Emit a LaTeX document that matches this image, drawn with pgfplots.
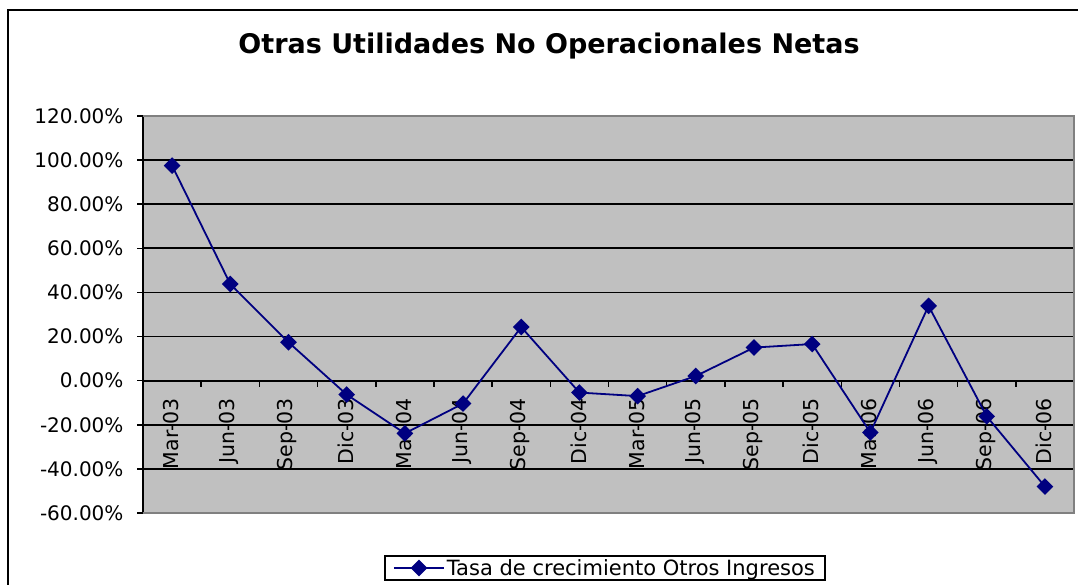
\documentclass[border=0pt]{standalone}
\usepackage{pgfplots}
\pgfplotsset{compat=1.18}
\usepackage{fontspec}
\setmainfont{DejaVu Sans}
\definecolor{navy}{RGB}{0,0,128}
\definecolor{plotgray}{RGB}{192,192,192}
\definecolor{bordergray}{RGB}{128,128,128}
\pgfplotstableread{
x y
0 97.5
1 43.8
2 17.4
3 -6.3
4 -23.9
5 -10.4
6 24.3
7 -5.4
8 -7.0
9 2.1
10 15.0
11 16.6
12 -23.5
13 33.9
14 -16.2
15 -48.0
}\datatable
\begin{document}
\begin{tikzpicture}[x=1bp,y=1bp]
\useasboundingbox (0,0) rectangle (1078,585);
\clip (0,0) rectangle (1078,585);
\fill[white] (0,0) rectangle (1078,585);
\draw[line width=1.5bp] (8,-20) rectangle (1100,575);
\node[font=\fontsize{27bp}{32bp}\selectfont\bfseries] at (549,539) {Otras Utilidades No Operacionales Netas};
\begin{axis}[
  at={(143bp,72bp)}, anchor=south west,
  scale only axis, width=931bp, height=397bp,
  xmin=-0.5, xmax=15.5, ymin=-60, ymax=120,
  axis background/.style={fill=plotgray},
  axis y line*=left, axis x line*=middle,
  axis line style={black, line width=1.8bp},
  ytick={-60,-40,...,120},
  yticklabels={-60.00\%,-40.00\%,-20.00\%,0.00\%,20.00\%,40.00\%,60.00\%,80.00\%,100.00\%,120.00\%},
  ytick style={black, line width=1.5bp},
  ytick align=outside, major tick length=6bp,
  yticklabel style={xshift=-10bp},
  ymajorgrids, major y grid style={black, line width=1.8bp},
  xtick={0,...,15},
  xticklabels={Mar-03,Jun-03,Sep-03,Dic-03,Mar-04,Jun-04,Sep-04,Dic-04,Mar-05,Jun-05,Sep-05,Dic-05,Mar-06,Jun-06,Sep-06,Dic-06},
  major x tick style={draw=none},
  minor xtick={-0.5,0.5,...,15.5},
  minor x tick style={black, line width=1.5bp},
  minor tick length=6bp,
  xtick align=outside,
  xticklabel style={rotate=90, anchor=east, xshift=-8bp, yshift=1bp, font=\fontsize{20.5bp}{24bp}\selectfont},
  yticklabel style={font=\fontsize{20bp}{24bp}\selectfont},
  legend style={at={(0.4962,-0.1385)}, anchor=center, draw=black, line width=1.5bp, fill=white,
    font=\fontsize{21bp}{25bp}\selectfont, inner xsep=8bp, inner ysep=1.5bp},
  legend image code/.code={\draw[mark repeat=2,mark phase=2,#1] plot coordinates {(0bp,0bp) (25bp,0bp) (50bp,0bp)};},
  clip=false,
]
\draw[bordergray, line width=1.8bp] (rel axis cs:0,1) -- (rel axis cs:1,1) -- (rel axis cs:1,0) -- (rel axis cs:0,0);
\addplot[navy, line width=1.8bp, mark=square*, mark size=5bp, mark options={solid, fill=navy, rotate=45}] table[x=x,y=y] {\datatable};
\addlegendentry{Tasa de crecimiento Otros Ingresos}
\end{axis}
\end{tikzpicture}
\end{document}
